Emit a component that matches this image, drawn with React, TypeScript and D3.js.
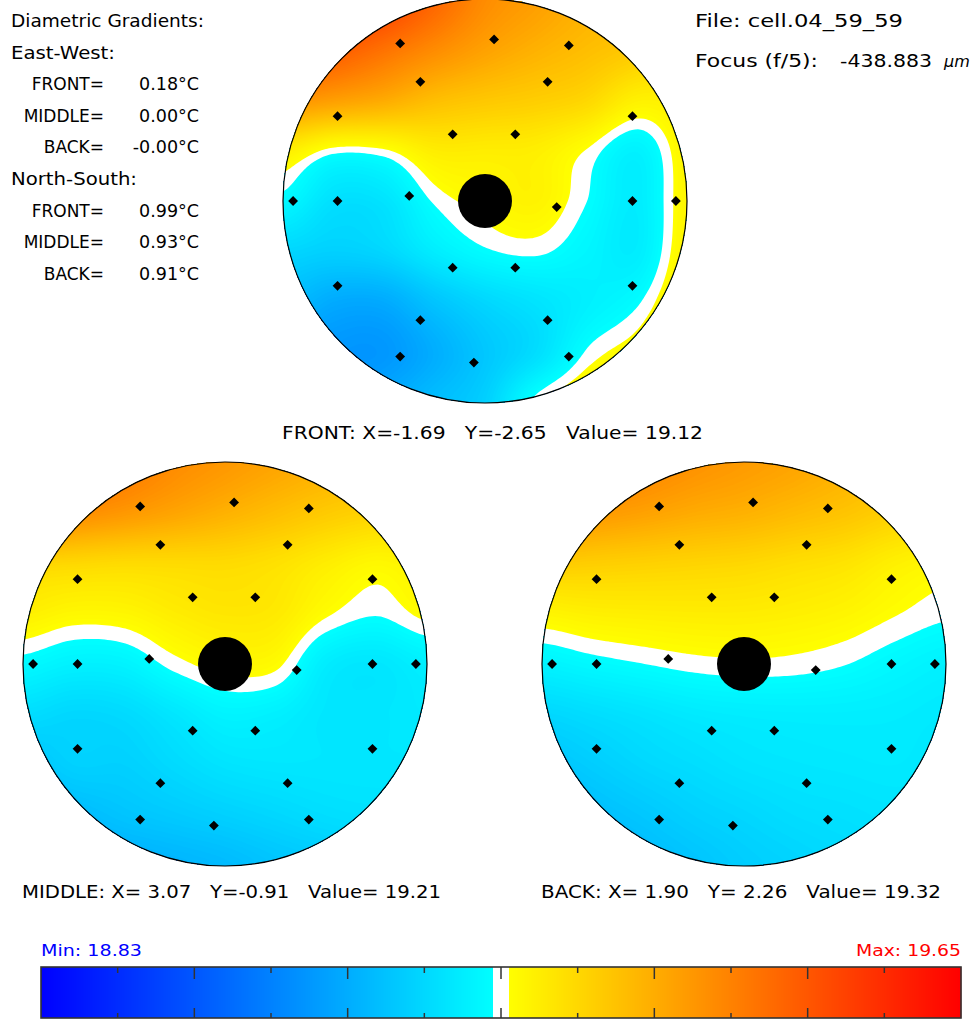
import React, { useEffect, useRef } from "react";
import * as d3 from "d3";

// colour bar limits (deg C)
const tempMin = 18.83;
const tempMax = 19.65;
// white band in the middle of the colour bar
const whiteLo = 19.2333;
const whiteHi = 19.2467;

// sensor positions in cell radii (east +, north +)
const sensorX = [-0.42, 0.045, 0.415, -0.32, 0.31, -0.73, 0.73, -0.16, 0.15, -0.95, -0.73, -0.375, 0.355, 0.73, 0.945, -0.16, 0.15, -0.73, 0.73, -0.32, 0.31, -0.42, -0.055, 0.415];
const sensorY = [0.78, 0.8, 0.77, 0.59, 0.59, 0.42, 0.42, 0.33, 0.33, 0, 0, 0.025, -0.03, 0, 0, -0.33, -0.33, -0.42, -0.42, -0.59, -0.59, -0.77, -0.8, -0.77];

// temperature fields, 9x9 lattice across the cell, rows north -> south, columns west -> east
const frontField = [
  [19.6, 19.58, 19.55, 19.49, 19.43, 19.4, 19.37, 19.35, 19.33],
  [19.55, 19.51, 19.47, 19.43, 19.395, 19.37, 19.35, 19.33, 19.3],
  [19.42, 19.4, 19.38, 19.35, 19.335, 19.325, 19.31, 19.27, 19.275],
  [19.275, 19.24, 19.244, 19.275, 19.275, 19.272, 19.246, 19.213, 19.262],
  [19.225, 19.185, 19.19, 19.236, 19.255, 19.265, 19.234, 19.205, 19.26],
  [19.17, 19.16, 19.17, 19.205, 19.23, 19.237, 19.22, 19.205, 19.264],
  [19.13, 19.1, 19.1, 19.14, 19.17, 19.19, 19.21, 19.23, 19.275],
  [19.09, 19.07, 19.07, 19.105, 19.145, 19.18, 19.235, 19.26, 19.295],
  [19.08, 19.08, 19.1, 19.13, 19.16, 19.24, 19.27, 19.29, 19.31],
];
const middleField = [
  [19.52, 19.49, 19.46, 19.43, 19.41, 19.39, 19.37, 19.35, 19.33],
  [19.46, 19.43, 19.41, 19.39, 19.37, 19.35, 19.33, 19.315, 19.3],
  [19.315, 19.31, 19.305, 19.305, 19.305, 19.295, 19.275, 19.258, 19.27],
  [19.27, 19.258, 19.26, 19.275, 19.285, 19.28, 19.25, 19.235, 19.252],
  [19.225, 19.212, 19.215, 19.24, 19.255, 19.252, 19.205, 19.195, 19.21],
  [19.18, 19.17, 19.175, 19.195, 19.215, 19.21, 19.195, 19.195, 19.2],
  [19.14, 19.16, 19.16, 19.175, 19.19, 19.195, 19.195, 19.195, 19.195],
  [19.11, 19.125, 19.14, 19.15, 19.16, 19.17, 19.18, 19.185, 19.185],
  [19.09, 19.1, 19.105, 19.115, 19.125, 19.14, 19.15, 19.16, 19.17],
];
const backField = [
  [19.48, 19.46, 19.44, 19.42, 19.405, 19.39, 19.37, 19.35, 19.33],
  [19.43, 19.41, 19.395, 19.38, 19.37, 19.355, 19.34, 19.32, 19.305],
  [19.33, 19.325, 19.32, 19.315, 19.31, 19.3, 19.29, 19.27, 19.258],
  [19.262, 19.27, 19.273, 19.275, 19.275, 19.27, 19.262, 19.248, 19.237],
  [19.215, 19.225, 19.233, 19.24, 19.243, 19.241, 19.234, 19.222, 19.212],
  [19.17, 19.18, 19.19, 19.2, 19.205, 19.207, 19.207, 19.205, 19.2],
  [19.14, 19.155, 19.17, 19.18, 19.19, 19.195, 19.198, 19.2, 19.195],
  [19.11, 19.13, 19.145, 19.16, 19.17, 19.18, 19.185, 19.19, 19.19],
  [19.09, 19.105, 19.125, 19.14, 19.155, 19.165, 19.175, 19.18, 19.18],
];

const planeNames = ["FRONT", "MIDDLE", "BACK"];
const probeX = [-1.69, 3.07, 1.9];
const probeY = [-2.65, -0.91, 2.26];
const probeValue = [19.12, 19.21, 19.32];
const gradientEW = ["0.18", "0.00", "-0.00"];
const gradientNS = ["0.99", "0.93", "0.91"];
const fileName = "cell.04_59_59";
const focusValue = "-438.883";

// layout
const W = 979;
const H = 1021;
const R = 202;
const centers = [
  [485, 201],
  [225, 664],
  [744, 664],
];
const captionX = [282, 22, 541];
const captionW = [421, 419, 400];
const captionY = [439, 898, 898];
const bar = { x0: 41, x1: 961, y0: 967, y1: 1018 };
const font = "'DejaVu Sans', Verdana, sans-serif";

const catmull = (p0: number, p1: number, p2: number, p3: number, t: number) =>
  0.5 * (2 * p1 + (-p0 + p2) * t + (2 * p0 - 5 * p1 + 4 * p2 - p3) * t * t + (-p0 + 3 * p1 - 3 * p2 + p3) * t * t * t);

function latticeValue(grid: number[][], u: number, v: number) {
  const n = grid.length - 1;
  const c = Math.min(n - 1, Math.max(0, Math.floor(u)));
  const r = Math.min(n - 1, Math.max(0, Math.floor(v)));
  const at = (rr: number, cc: number) => grid[Math.max(0, Math.min(n, rr))][Math.max(0, Math.min(n, cc))];
  const rows = [-1, 0, 1, 2].map((dr) =>
    catmull(at(r + dr, c - 1), at(r + dr, c), at(r + dr, c + 1), at(r + dr, c + 2), u - c)
  );
  return catmull(rows[0], rows[1], rows[2], rows[3], v - r);
}

const coldScale = d3.scaleLinear<string>().domain([tempMin, whiteLo]).range(["#0000ff", "#00ffff"]).clamp(true);
const warmScale = d3.scaleLinear<string>().domain([whiteHi, tempMax]).range(["#ffff00", "#ff0000"]).clamp(true);
const tempColor = (v: number) => (v < whiteLo ? coldScale(v) : v > whiteHi ? warmScale(v) : "#ffffff");

const fmtCoord = (v: number) => (v < 0 ? v.toFixed(2) : " " + v.toFixed(2));

const App = () => {
  const ref = useRef<SVGSVGElement>(null);

  useEffect(() => {
    const svg = d3.select(ref.current);
    svg.selectAll("*").remove();
    svg.append("rect").attr("width", W).attr("height", H).attr("fill", "#fff");

    // contour levels
    const thresholds = d3
      .range(0, 226)
      .map((k) => 18.8 + k * 0.004)
      .filter((t) => t < whiteLo || t > whiteHi)
      .concat([whiteLo, whiteHi])
      .sort((a, b) => a - b);
    const bandColor = (i: number) =>
      tempColor(i < thresholds.length - 1 ? (thresholds[i] + thresholds[i + 1]) / 2 : thresholds[i] + 0.002);

    const N = 136;
    const step = (2 * R) / N;
    const contours = d3.contours().size([N, N]).thresholds(thresholds);
    const defs = svg.append("defs");
    const diamond = d3.symbol().type(d3.symbolSquare).size(48)();

    [frontField, middleField, backField].forEach((field, p) => {
      const [cx, cy] = centers[p];
      const values: number[] = new Array(N * N);
      for (let j = 0; j < N; j++)
        for (let i = 0; i < N; i++)
          values[j * N + i] = latticeValue(field, ((i + 0.5) * 8) / N, ((j + 0.5) * 8) / N);

      defs.append("clipPath").attr("id", `cell${p}`).append("circle").attr("cx", cx).attr("cy", cy).attr("r", R);

      svg
        .append("g")
        .attr("clip-path", `url(#cell${p})`)
        .append("g")
        .attr("transform", `translate(${cx - R},${cy - R}) scale(${step})`)
        .selectAll("path")
        .data(contours(values))
        .join("path")
        .attr("d", d3.geoPath())
        .attr("fill", (d, i) => bandColor(i));

      svg.append("circle").attr("cx", cx).attr("cy", cy).attr("r", R).attr("fill", "none").attr("stroke", "#000").attr("stroke-width", 1.2);

      const x = d3.scaleLinear().domain([-1, 1]).range([cx - R, cx + R]);
      const y = d3.scaleLinear().domain([-1, 1]).range([cy + R, cy - R]);

      svg
        .append("g")
        .selectAll("path")
        .data(sensorX)
        .join("path")
        .attr("d", diamond)
        .attr("transform", (d, i) => `translate(${x(d)},${y(sensorY[i])}) rotate(45)`)
        .attr("fill", "#000");

      svg.append("circle").attr("cx", x(0)).attr("cy", y(0)).attr("r", 27).attr("fill", "#000");

      svg
        .append("text")
        .attr("x", captionX[p])
        .attr("y", captionY[p])
        .attr("textLength", captionW[p])
        .attr("lengthAdjust", "spacingAndGlyphs")
        .attr("font-family", font)
        .attr("font-size", 17)
        .style("white-space", "pre")
        .text(`${planeNames[p]}: X=${fmtCoord(probeX[p])}   Y=${fmtCoord(probeY[p])}   Value= ${probeValue[p].toFixed(2)}`);
    });

    // gradient summary
    const txt = svg.append("g").attr("font-family", font).attr("font-size", 17).attr("fill", "#000");
    const fit = (sel: any, w: number) => sel.attr("textLength", w).attr("lengthAdjust", "spacingAndGlyphs");
    fit(txt.append("text").attr("x", 11).attr("y", 27).text("Diametric Gradients:"), 193);
    fit(txt.append("text").attr("x", 11).attr("y", 59).text("East-West:"), 104);
    fit(txt.append("text").attr("x", 11).attr("y", 185).text("North-South:"), 126);
    const rowsY = [
      [90, 122, 153],
      [217, 248, 280],
    ];
    [gradientEW, gradientNS].forEach((vals, k) => {
      vals.forEach((v, i) => {
        txt.append("text").attr("x", 104).attr("y", rowsY[k][i]).attr("text-anchor", "end").text(`${planeNames[i]}=`);
        txt
          .append("text")
          .attr("x", 199)
          .attr("y", rowsY[k][i])
          .attr("text-anchor", "end")
          .attr("font-size", 17.5)
          .text(`${v}°C`);
      });
    });

    fit(txt.append("text").attr("x", 695).attr("y", 27).text(`File: ${fileName}`), 208);
    fit(txt.append("text").attr("x", 695).attr("y", 67).text("Focus (f/5):"), 123);
    fit(txt.append("text").attr("x", 840).attr("y", 67).text(focusValue), 92);
    txt.append("text").attr("x", 944).attr("y", 67).attr("font-size", 16).attr("font-style", "italic").text("µm");

    // colour bar
    const xBar = d3.scaleLinear().domain([tempMin, tempMax]).range([bar.x0, bar.x1]);
    svg
      .append("g")
      .selectAll("rect")
      .data(d3.range(bar.x0, bar.x1))
      .join("rect")
      .attr("x", (d) => d)
      .attr("y", bar.y0)
      .attr("width", 1.3)
      .attr("height", bar.y1 - bar.y0)
      .attr("fill", (d) => tempColor(xBar.invert(d + 0.5)));
    svg
      .append("rect")
      .attr("x", bar.x0)
      .attr("y", bar.y0)
      .attr("width", bar.x1 - bar.x0)
      .attr("height", bar.y1 - bar.y0)
      .attr("fill", "none")
      .attr("stroke", "#333")
      .attr("stroke-width", 1.6);
    const tickVals = d3.range(1, 12).map((k) => tempMin + (k * (tempMax - tempMin)) / 12);
    const ticks = svg.append("g").attr("stroke", "#333").attr("stroke-width", 1.5);
    tickVals.forEach((t, k) => {
      const long = (k + 1) % 2 === 0;
      ticks.append("line").attr("x1", xBar(t)).attr("x2", xBar(t)).attr("y1", bar.y0).attr("y2", bar.y0 + (long ? 12 : 6));
      ticks.append("line").attr("x1", xBar(t)).attr("x2", xBar(t)).attr("y1", bar.y1).attr("y2", bar.y1 - (long ? 10 : 5));
    });

    fit(
      svg
        .append("text")
        .attr("x", bar.x0)
        .attr("y", 956)
        .attr("font-family", font)
        .attr("font-size", 16)
        .attr("fill", "#0000ff")
        .text(`Min: ${tempMin.toFixed(2)}`),
      101
    );
    fit(
      svg
        .append("text")
        .attr("x", bar.x1 - 105)
        .attr("y", 956)
        .attr("font-family", font)
        .attr("font-size", 16)
        .attr("fill", "#ff0000")
        .text(`Max: ${tempMax.toFixed(2)}`),
      105
    );
  }, []);

  return (
    <div style={{ position: "absolute", left: 0, top: 0 }}>
      <svg ref={ref} width={W} height={H} style={{ display: "block" }} />
    </div>
  );
};

export default App;
